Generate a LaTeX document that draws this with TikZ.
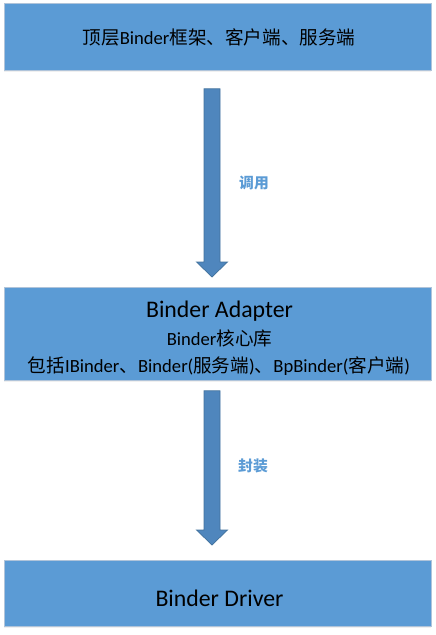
\documentclass[tikz,border=0pt]{standalone}
\usepackage{fontspec}
\setmainfont{Carlito}
\newfontfamily\cjk{Noto Sans CJK SC}
\usetikzlibrary{calc,shadows}
\definecolor{boxfill}{HTML}{5B9BD5}
\definecolor{boxedge}{HTML}{B0C4DA}
\definecolor{arrfill}{HTML}{4F86BD}
\definecolor{arredge}{HTML}{41719C}
\definecolor{lblcol}{HTML}{5B9BD5}
\tikzset{
  layerbox/.style={draw=boxedge, line width=0.8pt, fill=boxfill, minimum width=427pt, inner sep=0pt, anchor=north west,
    drop shadow={opacity=0.12, shadow xshift=0pt, shadow yshift=-1.5pt}},
  barrow/.style={draw=arredge, line width=0.7pt, fill=arrfill},
  lbl/.style={text=lblcol, font=\fontsize{14.8}{18}\selectfont\cjk\bfseries, anchor=west, inner sep=0pt},
  big/.style={font=\fontsize{23.8}{28}\selectfont},
  mid/.style={font=\fontsize{18.6}{22}\selectfont},
}
\newcommand{\blockarrow}[2]{%
  \draw[barrow] ($(#1)+(-8,0)$) -- ($(#1)+(8,0)$) -- ($(#2)+(8,-15)$) -- ($(#2)+(15.5,-15)$)
    -- (#2) -- ($(#2)+(-15.5,-15)$) -- ($(#2)+(-8,-15)$) -- cycle;}
\begin{document}
\begin{tikzpicture}[x=1pt,y=-1pt]
\useasboundingbox (0,0) rectangle (436,635);
\node[layerbox, minimum height=67pt] (top) at (4,3) {};
\node[mid] (toptxt) at (219,37) {{\cjk 顶层}Binder{\cjk 框架、客户端、服务端}};
\node[layerbox, minimum height=93pt] (mid) at (4,287) {};
\node[big] (midt1) at (219.5,311) {Binder Adapter};
\node[mid] (midt2) at (219.5,338) {Binder{\cjk 核心库}};
\node[mid] (midt3) at (219,366) {{\cjk 包括}IBinder{\cjk 、}Binder({\cjk 服务端}){\cjk 、}BpBinder({\cjk 客户端})};
\node[layerbox, minimum height=66pt] (bot) at (4,560) {};
\node[big] (bottxt) at (219.5,598) {Binder Driver};
\coordinate (ax) at (212,0);
\coordinate (a1s) at ($(top.south -| ax)+(0,18)$);
\coordinate (a1e) at ($(mid.north -| ax)+(0,-10)$);
\coordinate (a2s) at ($(mid.south -| ax)+(0,10)$);
\coordinate (a2e) at ($(bot.north -| ax)+(0,-15)$);
\blockarrow{a1s}{a1e}
\blockarrow{a2s}{a2e}
\node[lbl] (l1) at (239,183) {调用};
\node[lbl] (l2) at (238,466) {封装};
\end{tikzpicture}
\end{document}
